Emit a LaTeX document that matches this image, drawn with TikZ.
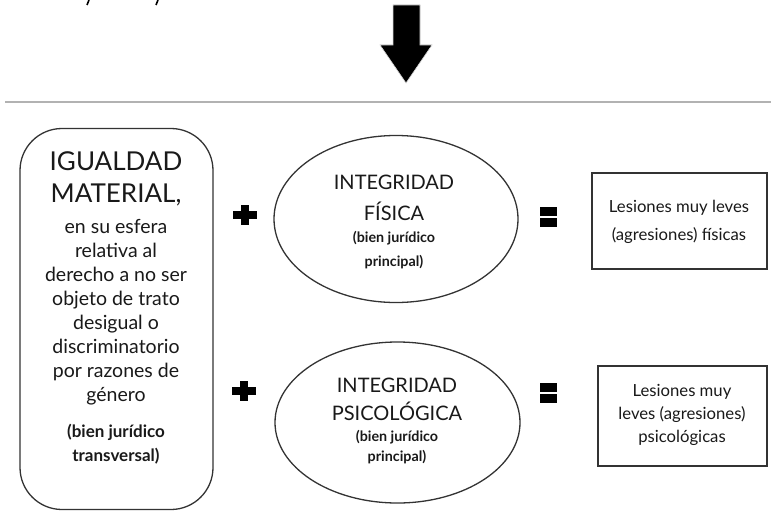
\documentclass[tikz,border=0pt]{standalone}
\usepackage{fontspec}
\setmainfont{Lato}
\usetikzlibrary{shapes.geometric,calc}
\begin{document}
\begin{tikzpicture}[x=1pt,y=-1pt,
  shapeline/.style={draw=black!80, line width=1.3pt, inner sep=0pt},
  txt/.style={align=center, text=black!90, inner sep=0pt},
  bigcaps/.style={txt, font=\fontsize{26}{32}\selectfont},
  midcaps/.style={txt, font=\fontsize{20}{30}\selectfont},
  body/.style={txt, font=\fontsize{19.5}{24}\selectfont},
  boldsmall/.style={txt, font=\bfseries\fontsize{14}{22}\selectfont},
  boldbody/.style={txt, font=\bfseries\fontsize{17}{24}\selectfont},
  boxtxt/.style={txt, font=\fontsize{16.7}{26}\selectfont},
  symb/.style={fill=black}
]
\useasboundingbox (0,0) rectangle (771,511);
% clipped fragments at top
\draw[line width=1.6pt] (89,0) -- (87,5);
\draw[line width=1.6pt] (158,0) -- (156,5);
% big arrow
\fill[black, draw=black!15, line width=0.6pt] (393,5) -- (420,5) -- (420,45) -- (432,45) -- (406,83) -- (380,45) -- (393,45) -- cycle;
% separator line
\draw[black!30, line width=1.4pt] (5,102) -- (771,102);
% shapes
\node[shapeline, rounded corners=42pt, minimum width=193pt, minimum height=381pt] (igual) at (116.5,319) {};
\node[shapeline, ellipse, minimum width=244pt, minimum height=167pt] (fis) at (396,219) {};
\node[shapeline, ellipse, minimum width=245pt, minimum height=161pt] (psi) at (397.5,422.5) {};
\node[shapeline, rectangle, minimum width=175pt, minimum height=96pt] (res1) at (679.5,221) {};
\node[shapeline, rectangle, minimum width=169pt, minimum height=100pt] (res2) at (682.5,416) {};
% texts left box
\node[bigcaps] (t1) at (116,179) {IGUALDAD\\MATERIAL,};
\node[body] (t2) at (116,312) {en su esfera\\relativa al\\derecho a no ser\\objeto de trato\\desigual o\\discriminatorio\\por razones de\\género};
\node[boldbody] (t3) at (116,444) {(bien jurídico\\transversal)};
% ellipse 1
\node[midcaps, font=\fontsize{20}{31}\selectfont] (e1a) at (394,197.5) {INTEGRIDAD\\FÍSICA};
\node[boldsmall, font=\bfseries\fontsize{14.3}{24}\selectfont] (e1b) at (394,250) {(bien jurídico\\principal)};
% ellipse 2
\node[midcaps, font=\fontsize{20}{28}\selectfont] (e2a) at (397,399) {INTEGRIDAD\\PSICOLÓGICA};
\node[boldsmall, font=\bfseries\fontsize{14.3}{20}\selectfont] (e2b) at (397,447) {(bien jurídico\\principal)};
% result boxes
\node[boxtxt, font=\fontsize{16.7}{28}\selectfont] (r1) at (679,222) {Lesiones muy leves\\(agresiones) físicas};
\node[boxtxt, font=\fontsize{16.7}{23}\selectfont] (r2) at (682,415) {Lesiones muy\\leves (agresiones)\\psicológicas};
% plus signs
\coordinate (p1) at (244.5,215);
\coordinate (p2) at (244,391);
\foreach \p in {p1,p2}{
  \fill[symb] ($(\p)+(-12,-4)$) rectangle ($(\p)+(12,4)$);
  \fill[symb] ($(\p)+(-4,-10)$) rectangle ($(\p)+(4,10)$);
}
% equals signs
\coordinate (q1) at (548.5,217);
\coordinate (q2) at (548.5,393);
\foreach \q in {q1,q2}{
  \fill[symb] ($(\q)+(-8.5,-10)$) rectangle ($(\q)+(8.5,-1)$);
  \fill[symb] ($(\q)+(-8.5,1)$) rectangle ($(\q)+(8.5,10)$);
}
\end{tikzpicture}
\end{document}
